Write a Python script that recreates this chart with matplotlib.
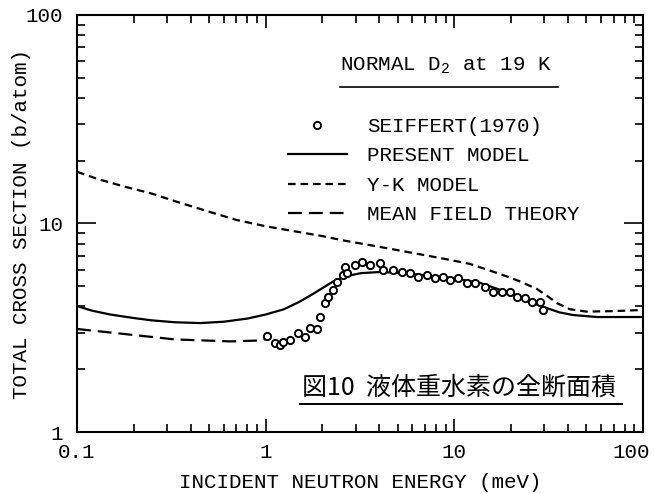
import matplotlib
matplotlib.use("Agg")
import matplotlib.pyplot as plt
import matplotlib.transforms as mtransforms
from matplotlib.lines import Line2D
from matplotlib.ticker import LogLocator, NullFormatter

# Seiffert (1970) measured points
e_seiffert = [1.02, 1.12, 1.19, 1.24, 1.35, 1.48, 1.62, 1.72, 1.87, 1.94, 2.06, 2.14,
              2.27, 2.39, 2.57, 2.63, 2.70, 2.97, 3.24, 3.57, 4.03, 4.18, 4.73, 5.28,
              5.82, 6.41, 7.16, 7.89, 8.70, 9.48, 10.45, 11.67, 12.86, 14.53, 16.02,
              17.88, 19.71, 21.47, 23.66, 25.78, 28.42, 29.49]
s_seiffert = [2.88, 2.67, 2.61, 2.70, 2.76, 2.98, 2.86, 3.15, 3.12, 3.56, 4.16, 4.44,
              4.80, 5.24, 5.66, 6.18, 5.79, 6.32, 6.54, 6.32, 6.47, 5.98, 5.98, 5.85,
              5.79, 5.54, 5.66, 5.48, 5.54, 5.35, 5.48, 5.19, 5.19, 4.96, 4.69,
              4.69, 4.69, 4.44, 4.39, 4.20, 4.20, 3.85]

# present model
e_present = [0.1, 0.12, 0.15, 0.2, 0.25, 0.33, 0.45, 0.6, 0.8, 1.0, 1.25, 1.5, 1.75,
             2.0, 2.3, 2.7, 3.2, 4.0, 5.0, 7.0, 10.0, 13.7, 17.0, 20.4, 25.0, 30.9,
             36.0, 42.5, 57.0, 100.0]
s_present = [4.02, 3.82, 3.66, 3.52, 3.43, 3.36, 3.33, 3.38, 3.50, 3.66, 3.88, 4.20,
             4.55, 4.90, 5.30, 5.60, 5.78, 5.85, 5.80, 5.65, 5.45, 5.19, 4.85, 4.54,
             4.20, 3.93, 3.75, 3.64, 3.56, 3.56]

# Y-K model
e_yk = [0.1, 0.13, 0.18, 0.25, 0.33, 0.5, 0.7, 1.0, 1.5, 2.0, 2.57, 3.7, 5.0, 6.57,
        9.0, 12.1, 15.0, 18.1, 22.0, 27.4, 31.0, 35.0, 41.0, 50.0, 70.0, 100.0]
s_yk = [17.7, 16.3, 15.0, 13.9, 12.8, 11.4, 10.4, 9.7, 9.1, 8.7, 8.3, 7.83, 7.45, 7.12,
        6.75, 6.4, 6.0, 5.66, 5.3, 4.85, 4.5, 4.15, 3.88, 3.78, 3.8, 3.85]

# mean field theory
e_mf = [0.1, 0.179, 0.33, 0.65, 0.97, 1.02]
s_mf = [3.12, 2.95, 2.78, 2.72, 2.75, 2.85]

xticks = [0.1, 1, 10, 100]
xticklabels = ["0.1", "1", "10", "100"]
yticks = [1, 10, 100]
yticklabels = ["1", "10", "100"]

plt.rcParams["font.family"] = ["Liberation Mono", "DejaVu Sans"]
plt.rcParams["mathtext.fontset"] = "custom"
plt.rcParams["mathtext.rm"] = "Liberation Mono"
plt.rcParams["lines.scale_dashes"] = False

W, H = 655, 494
fig = plt.figure(figsize=(W / 100, H / 100), dpi=100)
ax = fig.add_axes([77 / W, 1 - 432 / H, 566 / W, 417 / H])

l_yk, = ax.plot(e_yk, s_yk, color="black", lw=1.6, dashes=(5.5, 3.5), label="Y-K MODEL")
l_mf, = ax.plot(e_mf, s_mf, color="black", lw=1.6, dashes=(10, 5), label="MEAN FIELD THEORY")
l_pr, = ax.plot(e_present, s_present, color="black", lw=1.6, label="PRESENT MODEL")
pts, = ax.plot(e_seiffert, s_seiffert, "o", ms=5.2, mfc="white", mec="black", mew=1.4,
               label="SEIFFERT(1970)")

ax.set_xscale("log")
ax.set_yscale("log")
ax.set_xlim(0.1, 100)
ax.set_ylim(1, 100)
ax.set_xticks(xticks)
ax.set_xticklabels(xticklabels)
ax.set_yticks(yticks)
ax.set_yticklabels(yticklabels)
for axis in (ax.xaxis, ax.yaxis):
    axis.set_minor_locator(LogLocator(base=10, subs=range(2, 10)))
    axis.set_minor_formatter(NullFormatter())

for sp in ax.spines.values():
    sp.set_linewidth(1.5)
ax.tick_params(which="both", direction="in", top=True, right=True, width=1.2)
ax.tick_params(axis="x", which="major", length=9.4, pad=8, labelsize=15)
ax.tick_params(axis="y", which="major", length=13.7, pad=10, labelsize=15)
ax.tick_params(which="minor", length=5.8)

# last x label sits a bit left so it stays inside the picture
last = ax.get_xticklabels()[-1]
last.set_transform(last.get_transform() +
                   mtransforms.ScaledTranslation(-12 / 100, 0, fig.dpi_scale_trans))

ax.set_xlabel("INCIDENT NEUTRON ENERGY (meV)", fontsize=15, va="center")
ax.xaxis.set_label_coords(0.5, -(482 - 432) / 417)
ax.set_ylabel("TOTAL CROSS SECTION (b/atom)", fontsize=15, va="center")
ax.yaxis.set_label_coords(-(77 - 22) / 566, 0.5)

ax.legend(handles=[pts, l_pr, l_yk, l_mf], loc="upper left",
          bbox_to_anchor=(288 / W, 1 - 117 / H), bbox_transform=fig.transFigure,
          frameon=False, fontsize=15, numpoints=1, handlelength=2.83,
          handletextpad=0.96, labelspacing=0.5, borderpad=0, borderaxespad=0)

fig.text(340 / W, 1 - 66 / H, "NORMAL D$_\\mathrm{2}$ at 19 K", fontsize=15,
         ha="left", va="center")
fig.add_artist(Line2D([340 / W, 558 / W], [1 - 87 / H] * 2, color="black", lw=1.2))

fig.text(302 / W, 1 - 388 / H, "図10  液体重水素の全断面積", fontsize=18,
         family=["Noto Sans CJK JP", "DejaVu Sans"], ha="left", va="center")
fig.add_artist(Line2D([300 / W, 622 / W], [1 - 404 / H] * 2, color="black", lw=1.4))

fig.savefig("out.png", dpi=100)
